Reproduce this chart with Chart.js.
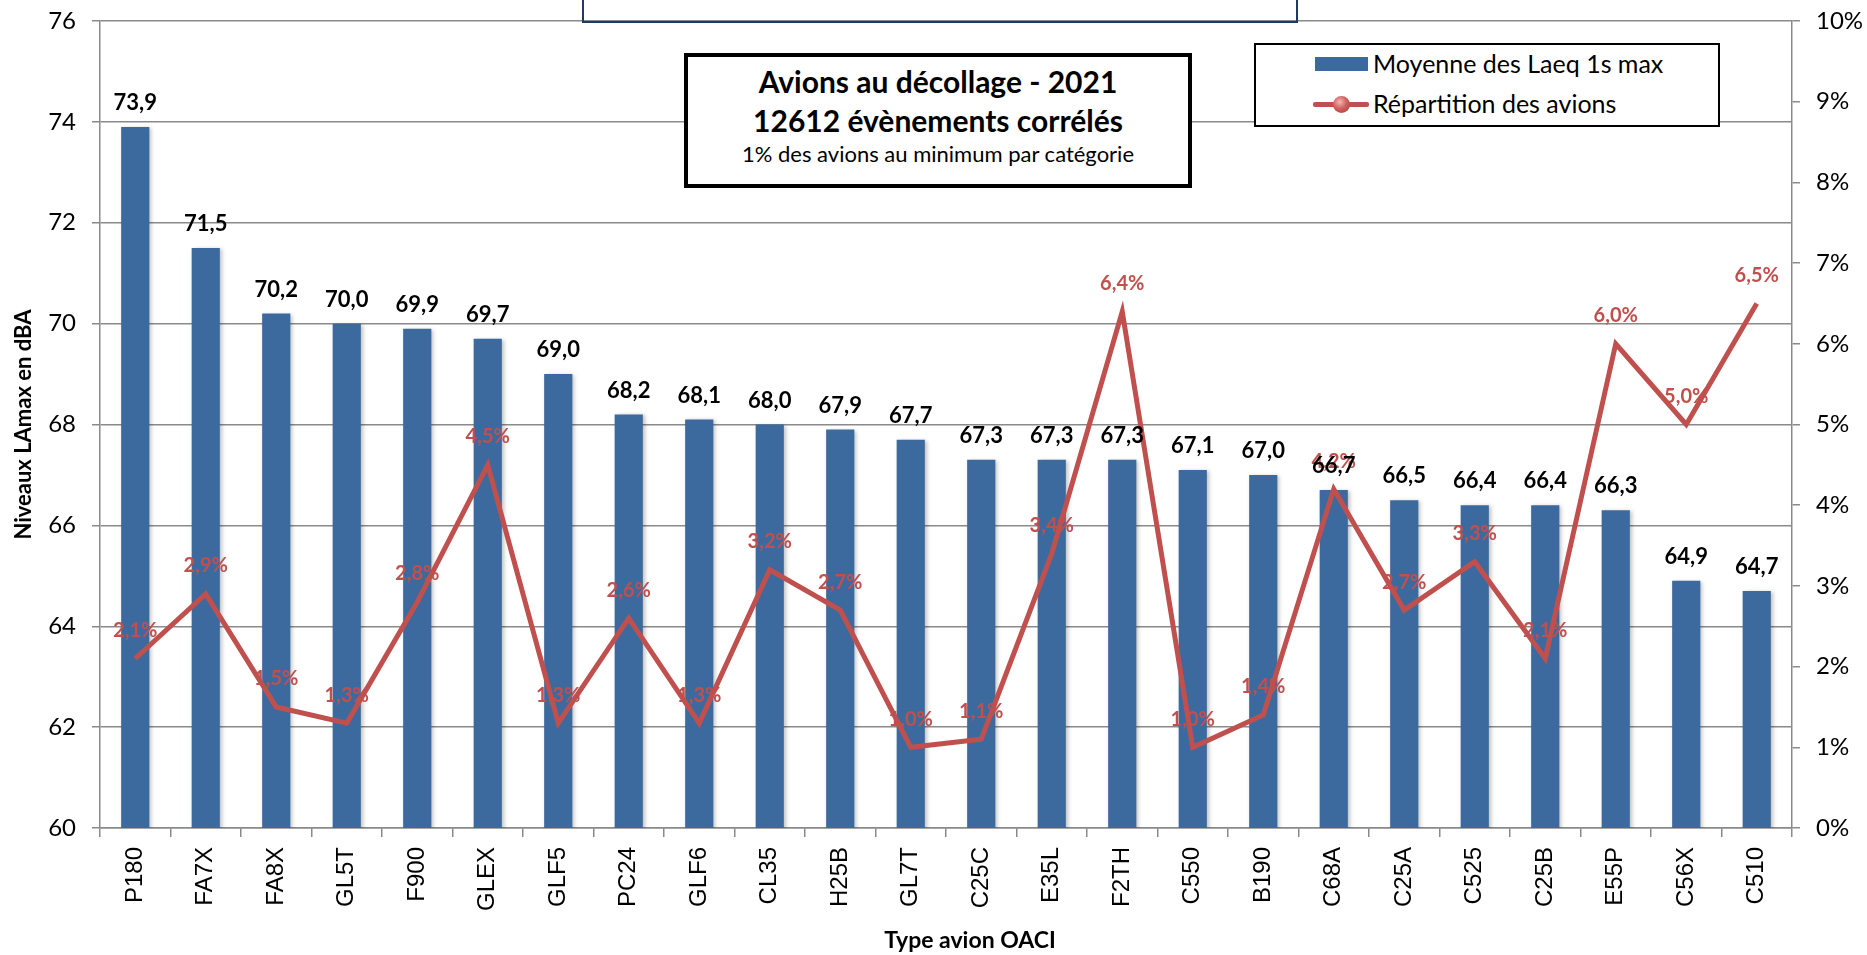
<!DOCTYPE html>
<html lang="fr">
<head>
<meta charset="utf-8">
<title>Avions au décollage - 2021</title>
<script src="https://cdn.jsdelivr.net/npm/chart.js@4.4.1/dist/chart.umd.min.js"></script>
<style>
  body { margin: 0; background: #fff; }
  #wrap { position: relative; width: 1867px; height: 955px; overflow: hidden; font-family: Lato, "Open Sans", sans-serif; }
  #myChart { position: absolute; left: 0; top: 0; }
  .box { position: absolute; box-sizing: border-box; background: #fff; }
  #topBox { left: 582px; top: -30px; width: 716px; height: 53px; border: 2px solid #1f3b64; background: transparent; }
  #titleBox { left: 684px; top: 53px; width: 508px; height: 135px; border: 4px solid #000; text-align: center; }
  #titleBox div { position: absolute; left: 0; right: 0; line-height: 1.2; white-space: nowrap; }
  #titleBox .l1 { top: 6px; font-weight: bold; font-size: 30px; }
  #titleBox .l2 { top: 45px; font-weight: bold; font-size: 30px; }
  #titleBox .l3 { top: 84px; font-size: 22px; }
  #legendBox { left: 1254px; top: 43px; width: 466px; height: 84px; border: 2px solid #000; }
  .leg { position: absolute; left: 0; font-size: 25px; line-height: 30px; white-space: nowrap; }
  .leg span { position: absolute; left: 117px; top: -16px; }
  .swatch { position: absolute; left: 59px; top: -7px; width: 53px; height: 14px; background: #3d6a9e; }
  .lineSw { position: absolute; left: 57px; top: -2px; width: 56px; height: 5px; background: #c0504d; border-radius: 2px; }
  .dot { position: absolute; left: 77px; top: -8px; width: 17px; height: 17px; border-radius: 50%;
         background: radial-gradient(circle at 40% 35%, #f2b8b6 0%, #d0605d 45%, #a23c39 100%); }
  #xTitle { position: absolute; left: 820px; top: 925px; width: 300px; text-align: center; font-weight: bold; font-size: 23px; line-height: 28px; }
</style>
</head>
<body>
<div id="wrap">
  <canvas id="myChart" width="1867" height="955"></canvas>
  <div class="box" id="topBox"></div>
  <div class="box" id="titleBox">
    <div class="l1">Avions au décollage - 2021</div>
    <div class="l2">12612 évènements corrélés</div>
    <div class="l3">1% des avions au minimum par catégorie</div>
  </div>
  <div class="box" id="legendBox">
    <div class="leg" style="top:19px"><div class="swatch"></div><span>Moyenne des Laeq 1s max</span></div>
    <div class="leg" style="top:59px"><div class="lineSw"></div><div class="dot"></div><span>Répartition des avions</span></div>
  </div>
  <div id="xTitle">Type avion OACI</div>
</div>
<script>
const ctx = document.getElementById('myChart');

// types d'avions (code OACI)
const aircraftTypes = ['P180', 'FA7X', 'FA8X', 'GL5T', 'F900', 'GLEX', 'GLF5', 'PC24', 'GLF6', 'CL35',
  'H25B', 'GL7T', 'C25C', 'E35L', 'F2TH', 'C550', 'B190', 'C68A', 'C25A', 'C525', 'C25B', 'E55P', 'C56X', 'C510'];

// moyenne des Laeq 1s max, en dBA
const laeqMax = [73.9, 71.5, 70.2, 70.0, 69.9, 69.7, 69.0, 68.2, 68.1, 68.0,
  67.9, 67.7, 67.3, 67.3, 67.3, 67.1, 67.0, 66.7, 66.5, 66.4, 66.4, 66.3, 64.9, 64.7];

// répartition des avions, en %
const shareOfFlights = [2.1, 2.9, 1.5, 1.3, 2.8, 4.5, 1.3, 2.6, 1.3, 3.2,
  2.7, 1.0, 1.1, 3.4, 6.4, 1.0, 1.4, 4.2, 2.7, 3.3, 2.1, 6.0, 5.0, 6.5];

const dbaTicks = { min: 60, max: 76, step: 2 };
const pctTicks = { min: 0, max: 10, step: 1 };

const blue = '#3d6a9e';
const red = '#c0504d';
const gridGray = '#8a8a8a';
const fontFamily = 'Lato, "Open Sans", sans-serif';

function frNumber(v) {
  return v.toFixed(1).replace('.', ',');
}

// value labels drawn above bars and line points
const valueLabels = {
  id: 'valueLabels',
  afterDatasetsDraw(chart) {
    const c = chart.ctx;
    c.save();
    c.textAlign = 'center';
    c.textBaseline = 'middle';

    c.fillStyle = red;
    c.font = 'bold 20px ' + fontFamily;
    chart.getDatasetMeta(1).data.forEach((pt, i) => {
      c.fillText(frNumber(shareOfFlights[i]) + '%', pt.x, pt.y - 28);
    });

    c.fillStyle = '#000';
    c.font = 'bold 22px ' + fontFamily;
    chart.getDatasetMeta(0).data.forEach((bar, i) => {
      c.fillText(frNumber(laeqMax[i]), bar.x, bar.y - 24);
    });
    c.restore();
  }
};

// soft shadow on the bars
const barShadow = {
  id: 'barShadow',
  beforeDatasetDraw(chart, args) {
    if (args.index !== 0) return;
    const c = chart.ctx;
    c.save();
    c.shadowColor = 'rgba(0,0,0,0.25)';
    c.shadowBlur = 4;
    c.shadowOffsetX = 2;
    c.shadowOffsetY = 1;
  },
  afterDatasetDraw(chart, args) {
    if (args.index !== 0) return;
    chart.ctx.restore();
  }
};

// fixed axis box sizes, no extra room for the end labels
function fitVertical(width) {
  return scale => {
    scale.width = width;
    scale.paddingTop = 0;
    scale.paddingBottom = 0;
  };
}

const currentChart = new Chart(ctx, {
  type: 'bar',
  data: {
    labels: aircraftTypes,
    datasets: [{
      label: 'Moyenne des Laeq 1s max',
      data: laeqMax,
      backgroundColor: blue,
      barPercentage: 0.4,
      categoryPercentage: 1,
      yAxisID: 'y',
      order: 1
    }, {
      type: 'line',
      label: 'Répartition des avions',
      data: shareOfFlights,
      borderColor: red,
      borderWidth: 5,
      pointRadius: 0,
      tension: 0,
      yAxisID: 'y1',
      order: 0
    }]
  },
  options: {
    responsive: false,
    animation: false,
    layout: { padding: { top: 21, left: 0, right: 0, bottom: 0 } },
    plugins: {
      legend: { display: false },
      tooltip: { enabled: false }
    },
    scales: {
      x: {
        offset: true,
        grid: { offset: true, drawOnChartArea: false, drawTicks: true, tickLength: 9, color: gridGray, lineWidth: 1.5 },
        border: { color: gridGray, width: 1.5 },
        ticks: {
          minRotation: 90, maxRotation: 90, autoSkip: false, padding: 10,
          color: '#000', font: { family: '"Liberation Sans", Arial, sans-serif', size: 24 }
        },
        afterFit: scale => { scale.height = 127; scale.paddingLeft = 0; scale.paddingRight = 0; }
      },
      y: {
        position: 'left',
        min: dbaTicks.min, max: dbaTicks.max,
        grid: { color: gridGray, lineWidth: 1.5, tickLength: 8 },
        border: { color: gridGray, width: 1.5 },
        ticks: { stepSize: dbaTicks.step, padding: 16, color: '#000', font: { family: fontFamily, size: 24 } },
        title: {
          display: true, text: 'Niveaux LAmax en dBA', color: '#000',
          font: { family: fontFamily, size: 22, weight: 'bold' }, padding: { top: 11, bottom: 0 }
        },
        afterFit: fitVertical(100)
      },
      y1: {
        position: 'right',
        min: pctTicks.min, max: pctTicks.max,
        grid: { drawOnChartArea: false, color: gridGray, lineWidth: 1.5, tickLength: 8 },
        border: { color: gridGray, width: 1.5 },
        ticks: {
          stepSize: pctTicks.step, padding: 16, color: '#000', font: { family: fontFamily, size: 24 },
          callback: v => v + '%'
        },
        afterFit: fitVertical(75)
      }
    }
  },
  plugins: [barShadow, valueLabels]
});
</script>
</body>
</html>
